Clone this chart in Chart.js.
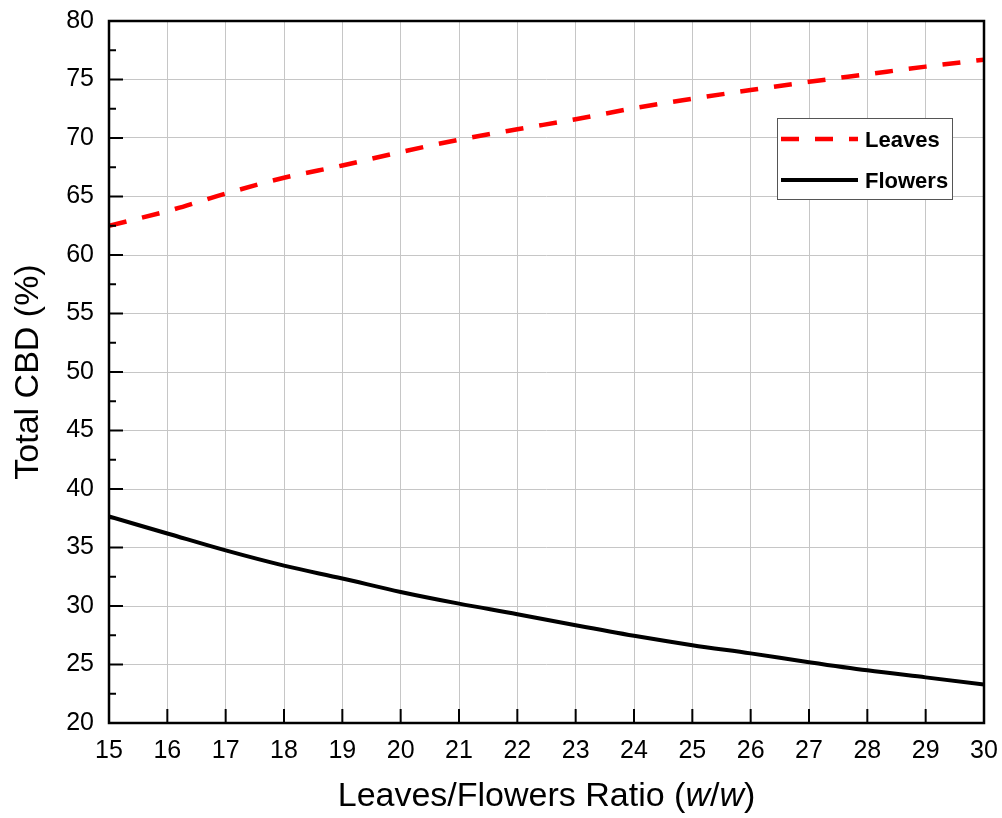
<!DOCTYPE html>
<html>
<head>
<meta charset="UTF-8">
<title>Total CBD vs Leaves/Flowers Ratio</title>
<script src="https://cdn.jsdelivr.net/npm/chart.js@4.4.0/dist/chart.umd.min.js"></script>
<style>
body { margin: 0; background: #fff; }
#wrap { width: 1002px; height: 818px; }
</style>
</head>
<body>
<div id="wrap"><canvas id="myChart" width="1002" height="818"></canvas></div>
<script>
// values
var ratios  = [15, 16, 17, 18, 19, 20, 21, 22, 23, 24, 25, 26, 27, 28, 29, 30];
var leaves  = [62.5, 63.75, 65.25, 66.6, 67.65, 68.8, 69.85, 70.75, 71.6, 72.55, 73.35, 74.1, 74.8, 75.45, 76.1, 76.7];
var flowers = [37.65, 36.2, 34.75, 33.45, 32.35, 31.2, 30.2, 29.3, 28.35, 27.45, 26.65, 25.95, 25.2, 24.5, 23.9, 23.3];
var seriesNames = ["Leaves", "Flowers"];

var FONT = "'Liberation Sans', Arial, sans-serif";

function points(ys) {
    return ratios.map(function(x, i) { return {x: x, y: ys[i]}; });
}

// drop the extra room Chart.js keeps for overhanging end labels
function noOverhang(s) {
    s.paddingTop = 0; s.paddingBottom = 0; s.paddingLeft = 0; s.paddingRight = 0;
}

// frame, inward ticks, axis titles and the boxed legend
var decor = {
    id: "decor",
    afterDatasetsDraw: function(chart) {
        var ctx = chart.ctx, a = chart.chartArea;
        var xs = chart.scales.x, ys = chart.scales.y;
        ctx.save();
        ctx.strokeStyle = "#000";
        ctx.lineWidth = 2;
        // y ticks: major every 5, minor between
        for (var v = 20; v <= 80; v += 2.5) {
            var py = ys.getPixelForValue(v);
            var len = (v % 5 === 0) ? 14 : 7;
            ctx.beginPath(); ctx.moveTo(a.left, py); ctx.lineTo(a.left + len, py); ctx.stroke();
        }
        for (var t = 15; t <= 30; t++) {
            var px = xs.getPixelForValue(t);
            ctx.beginPath(); ctx.moveTo(px, a.bottom); ctx.lineTo(px, a.bottom - 14); ctx.stroke();
        }
        ctx.lineWidth = 2.5;
        ctx.strokeRect(a.left, a.top, a.right - a.left, a.bottom - a.top);

        // axis titles
        ctx.fillStyle = "#000";
        ctx.textBaseline = "middle";
        var parts = [["Leaves/Flowers Ratio (", ""], ["w", "italic "], ["/", ""], ["w", "italic "], [")", ""]];
        var total = 0;
        parts.forEach(function(p) { ctx.font = p[1] + "34px " + FONT; total += ctx.measureText(p[0]).width; });
        var cx = (a.left + a.right) / 2 - total / 2;
        var ty = a.bottom + 74;
        ctx.textAlign = "left";
        parts.forEach(function(p) {
            ctx.font = p[1] + "34px " + FONT;
            ctx.fillText(p[0], cx, ty);
            cx += ctx.measureText(p[0]).width;
        });
        ctx.save();
        ctx.translate(29, (a.top + a.bottom) / 2);
        ctx.rotate(-Math.PI / 2);
        ctx.textAlign = "center";
        ctx.font = "34px " + FONT;
        ctx.fillText("Total CBD (%)", 0, 0);
        ctx.restore();

        // legend box
        var bx = a.right - 207, by = a.top + 97, bw = 175, bh = 81;
        ctx.fillStyle = "#fff";
        ctx.fillRect(bx, by, bw, bh);
        ctx.strokeStyle = "#555";
        ctx.lineWidth = 1;
        ctx.strokeRect(bx + 0.5, by + 0.5, bw, bh);
        var dsets = chart.data.datasets;
        for (var i = 0; i < dsets.length; i++) {
            var ly = by + 21 + i * 41;
            ctx.strokeStyle = dsets[i].borderColor;
            ctx.lineWidth = dsets[i].borderWidth;
            ctx.setLineDash(dsets[i].borderDash || []);
            ctx.beginPath(); ctx.moveTo(bx + 4, ly); ctx.lineTo(bx + 81, ly); ctx.stroke();
            ctx.setLineDash([]);
            ctx.fillStyle = "#000";
            ctx.font = "bold 22px " + FONT;
            ctx.textAlign = "left";
            ctx.fillText(dsets[i].label, bx + 88, ly + 2);
        }
        ctx.restore();
    }
};

new Chart(document.getElementById("myChart"), {
    type: "line",
    data: {
        datasets: [
            {label: seriesNames[0], data: points(leaves), borderColor: "#ff0000", borderWidth: 4.5,
             borderDash: [18, 16], pointRadius: 0, fill: false, cubicInterpolationMode: "monotone"},
            {label: seriesNames[1], data: points(flowers), borderColor: "#000000", borderWidth: 4,
             pointRadius: 0, fill: false, cubicInterpolationMode: "monotone"}
        ]
    },
    options: {
        responsive: false,
        animation: false,
        layout: {padding: {top: 21, right: 18, left: 0, bottom: 0}},
        plugins: {legend: {display: false}, tooltip: {enabled: false}},
        scales: {
            x: {
                type: "linear", min: 15, max: 30,
                ticks: {stepSize: 1, color: "#000", font: {family: FONT, size: 25}, padding: 13, maxRotation: 0},
                grid: {color: "#c6c6c6", lineWidth: 1, drawTicks: false},
                border: {display: false},
                afterFit: function(s) { s.height = 95; noOverhang(s); }
            },
            y: {
                min: 20, max: 80,
                ticks: {stepSize: 5, color: "#000", font: {family: FONT, size: 25}, padding: 15},
                grid: {color: "#c6c6c6", lineWidth: 1, drawTicks: false},
                border: {display: false},
                afterFit: function(s) { s.width = 109; noOverhang(s); }
            }
        }
    },
    plugins: [decor]
});
</script>
</body>
</html>
